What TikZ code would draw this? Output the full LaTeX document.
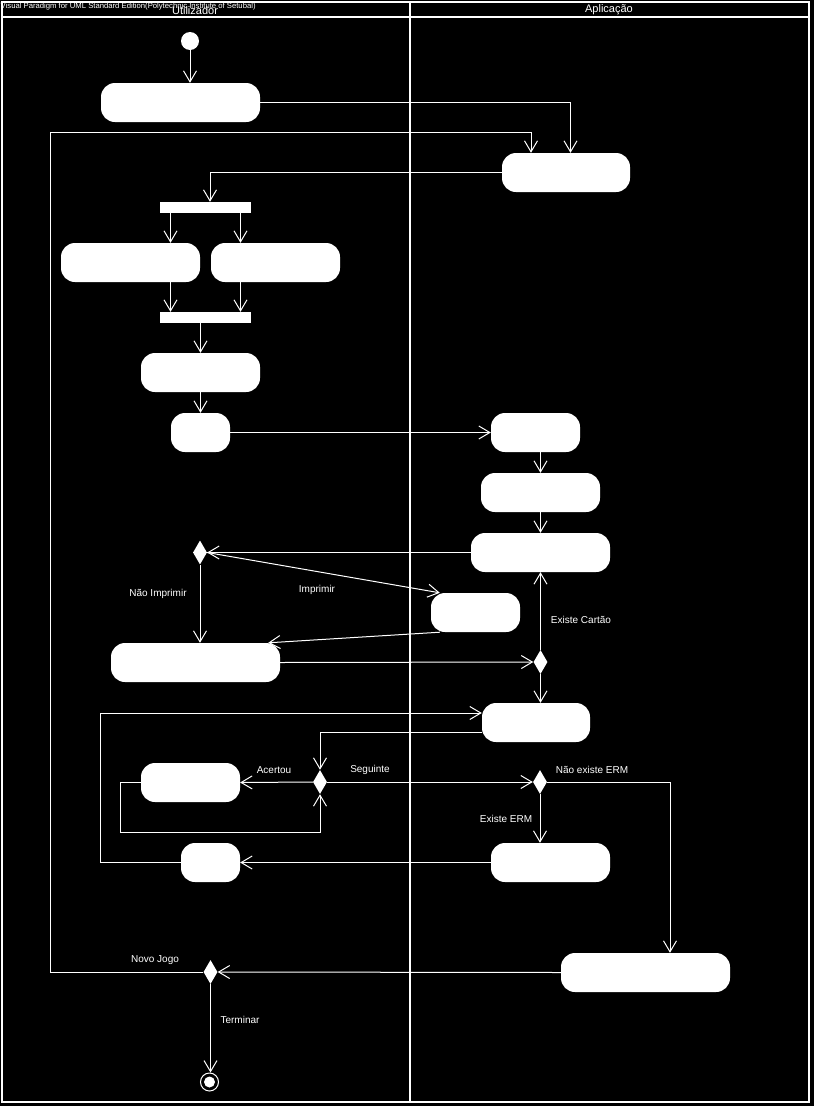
\documentclass[tikz,border=0pt]{standalone}
\usepackage{fontspec}
\setmainfont{Liberation Sans}
\usetikzlibrary{arrows.meta,shapes.geometric}
\begin{document}
\begin{tikzpicture}[x=1pt,y=-1pt,
  act/.style={fill=white,rounded corners=14pt,minimum height=39pt,inner sep=0pt},
  forkbar/.style={fill=white,minimum height=11pt,minimum width=91pt,inner sep=0pt},
  dia/.style={diamond,fill=white,minimum width=14pt,minimum height=24pt,inner sep=0pt},
  arr/.style={white,line width=1pt,-{Straight Barb[length=11pt,width=13pt,line width=1pt]}},
  lbl/.style={text=white,font=\fontsize{10}{12}\selectfont,inner sep=0pt},
  lane/.style={white,line width=2pt}]
% background and frame
\fill[black] (0,0) rectangle (814,1106);
\useasboundingbox (0,0) rectangle (814,1106);
\draw[lane] (1.5,2) rectangle (809,1102);
\draw[lane] (1.5,16.5) -- (809,16.5);
\draw[lane] (410,2) -- (410,1102);
\node[lbl,font=\fontsize{11}{13}\selectfont] (lanea) at (195,10.5) {Utilizador};
\node[lbl,font=\fontsize{11}{13}\selectfont] (laneb) at (609,10) {Aplicação};
\node[lbl,font=\fontsize{7.7}{8}\selectfont,anchor=west] (title) at (0.5,7) {Visual Paradigm for UML Standard Edition(Polytechnic Institute of Setubal)};
% initial and final
\node[circle,fill=white,minimum size=18pt,inner sep=0pt] (start) at (190,41) {};
\node[circle,draw=white,line width=1pt,minimum size=18pt,inner sep=0pt] (end) at (209.5,1082) {};
\fill[white] (end.center) circle (5.5pt);
% activities
\node[act,minimum width=159pt] (A) at (180.5,102.5) {};
\node[act,minimum width=128pt] (B) at (566,172.5) {};
\node[forkbar] (bar1) at (205.5,207.5) {};
\node[act,minimum width=139pt] (C) at (130.5,262.5) {};
\node[act,minimum width=129pt] (D) at (275.5,262.5) {};
\node[forkbar] (bar2) at (205.5,317.5) {};
\node[act,minimum width=119pt] (E) at (200.5,372.5) {};
\node[act,minimum width=59pt] (F) at (200.5,432.5) {};
\node[act,minimum width=89pt] (G) at (535.5,432.5) {};
\node[act,minimum width=119pt] (H) at (540.5,492.5) {};
\node[act,minimum width=139pt] (I) at (540.5,552.5) {};
\node[act,minimum width=89pt] (J) at (475.5,612.5) {};
\node[act,minimum width=169pt] (K) at (195.5,662.5) {};
\node[act,minimum width=108pt] (R) at (536,722.5) {};
\node[act,minimum width=99pt] (S) at (190.5,782.5) {};
\node[act,minimum width=59pt] (T) at (210.5,862.5) {};
\node[act,minimum width=119pt] (V) at (550.5,862.5) {};
\node[act,minimum width=169pt] (U) at (645.5,972.5) {};
% decisions
\node[dia] (D1) at (200,552.5) {};
\node[dia] (D2) at (540.5,662) {};
\node[dia] (D3) at (320,782) {};
\node[dia] (D4) at (540,782) {};
\node[dia] (D5) at (210.5,972) {};
% helper coordinates
\coordinate (x170) at (170.5,0);
\coordinate (x240) at (240.5,0);
\coordinate (lp1) at (50,132);
\coordinate (lp2) at (100.5,713);
\coordinate (lp3) at (120.5,832);
% connectors
\draw[arr] (start) -- (start |- A.north);
\draw[arr] (A.east) -| ([xshift=4.5pt]B.north);
\draw[arr] (B.west) -| ([xshift=4.5pt]bar1.north);
\draw[arr] (bar1.south -| x170) -- (C.north -| x170);
\draw[arr] (bar1.south -| x240) -- (D.north -| x240);
\draw[arr] (C.south -| x170) -- (bar2.north -| x170);
\draw[arr] (D.south -| x240) -- (bar2.north -| x240);
\draw[arr] (E.north |- bar2.south) -- (E.north);
\draw[arr] (E.south) -- (F.north);
\draw[arr] (F.east) -- (G.west);
\draw[arr] (H.north |- G.south) -- (H.north);
\draw[arr] (H.south) -- (I.north);
\draw[arr] (I.west) -- (D1.east);
\draw[arr] (D1.east) -- ([xshift=9pt]J.north west);
\draw[arr] (D1.south) -- (D1.south |- K.north);
\draw[arr] ([xshift=9pt]J.south west) -- ([xshift=-12pt]K.north east);
\draw[arr] (K.east) -- (D2.west);
\draw[arr] (D2.north) -- (I.south);
\draw[arr] (D2.south) -- (D2.south |- R.north);
\draw[arr] (T.west) -| (lp2) -- ([yshift=9.5pt]R.west);
\draw[arr] ([yshift=-9.5pt]R.west) -| (D3.north);
\draw[arr] (S.west) -| (lp3) -| (D3.south);
\draw[arr] (D3.west) -- (S.east);
\draw[arr] (D3.east) -- (D4.west);
\draw[arr] (D4.east) -| ([xshift=24.5pt]U.north);
\draw[arr] (D4.south) -- (D4.south |- V.north);
\draw[arr] (V.west) -- (T.east);
\draw[arr] (U.west) -- (D5.east);
\draw[arr] (D5.west) -| (lp1) -| ([xshift=-35pt]B.north);
\draw[arr] (D5.south) -- (D5.south |- end.north);
% labels
\node[lbl] (l1) at (158,594) {Não Imprimir};
\node[lbl] (l2) at (317,590) {Imprimir};
\node[lbl] (l3) at (581,620) {Existe Cartão};
\node[lbl] (l4) at (274,770) {Acertou};
\node[lbl] (l5) at (370,770) {Seguinte};
\node[lbl] (l6) at (592,770) {Não existe ERM};
\node[lbl] (l7) at (506,819) {Existe ERM};
\node[lbl] (l8) at (155,960) {Novo Jogo};
\node[lbl] (l9) at (240,1020) {Terminar};
\end{tikzpicture}
\end{document}
